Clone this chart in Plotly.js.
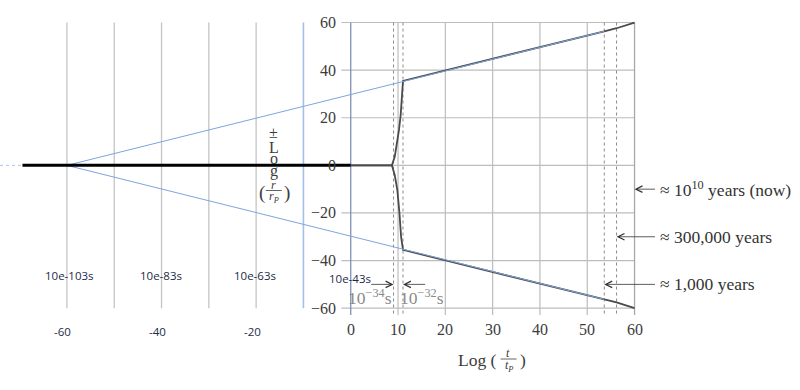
<!DOCTYPE html>
<html>
<head>
<meta charset="utf-8">
<script src="https://cdn.plot.ly/plotly-3.0.1.min.js"></script>
<style>html,body{margin:0;padding:0;background:#fff;}#chart{width:800px;height:390px;}</style>
</head>
<body>
<div id="chart"></div>
<script>
// ---- data ----
const leftGridX = [-60, -50, -40, -30, -20];
const rightGridX = [10, 20, 30, 40, 50];
const rightGridY = [-60, -40, -20, 0, 20, 40, 60];
const xTickVals = [0, 10, 20, 30, 40, 50, 60];
const yTickVals = [-60, -40, -20, 0, 20, 40, 60];
const yTickText = ['\u221260', '\u221240', '\u221220', '0', '20', '40', '60'];
const leftTickVals = [-60, -40, -20];
const leftTickText = ['-60', '-40', '-20'];
const timeLabelX = [-60, -40, -20, 0];
const timeLabels = ['10e-103s', '10e-83s', '10e-63s', '10e-43s'];
const eventX = [9.05, 11.05, 53.6, 56.2];
const upperX = [0, 8.7, 9.3, 9.8, 10.2, 10.55, 10.8, 11.05, 53.6, 56.2, 60];
const upperY = [0, 0, 3.6, 9.2, 14.9, 21, 28, 35.5, 56.3, 57.6, 60];
const lowerX = [0, 8.7, 9.3, 9.85, 10.3, 10.65, 11.05, 53.6, 56.2, 60];
const lowerY = [0, 0, -4, -10.4, -20, -30, -35.5, -56.3, -57.6, -60];
const blueX = [-60, 53.6];
const blueUpperY = [0, 56.3];
const blueLowerY = [0, -56.3];
const preX = [-69.4, 0];
const preY = [0, 0];
const faintX = [-74.15, -69.4];
const faintY = [0, 0];
const eraLabels = ['\u2248 10<sup>10</sup> years (now)', '\u2248 300,000 years', '\u2248 1,000 years'];
const eraTipX = [60, 56.2, 53.6];
const eraY = [-10, -30, -50];
const earlyLabels = ['10<sup>\u221234</sup>s', '10<sup>\u221232</sup>s'];
const earlyTipX = [9.05, 11.05];
const earlyTailX = [4.0, 16.05];
const earlyY = -50;

// ---- geometry helpers (pixel -> paper) ----
const W = 644.5, T = 13, H = 319;
const PX = p => p / W;
const PY = p => 1 - (p - T) / H;

function vlines(xs, y0, y1) {
  const x = [], y = [];
  xs.forEach(v => { x.push(v, v, null); y.push(y0, y1, null); });
  return {x, y};
}
function hlines(ys, x0, x1) {
  const x = [], y = [];
  ys.forEach(v => { x.push(x0, x1, null); y.push(v, v, null); });
  return {x, y};
}

const traces = [];
const lg = vlines(leftGridX, 60, -60);
traces.push({x: lg.x, y: lg.y, mode: 'lines', line: {color: '#c4c4c4', width: 1.3}});
const rh = hlines(rightGridY, -1.97, 60);
traces.push({x: rh.x, y: rh.y, mode: 'lines', line: {color: '#bdbdbd', width: 1.2}});
const rv = vlines(rightGridX, 60, -62.9);
traces.push({x: rv.x, y: rv.y, mode: 'lines', line: {color: '#bdbdbd', width: 1.2}});
const re = vlines([60], 60, -62.9);
traces.push({x: re.x, y: re.y, mode: 'lines', line: {color: '#a8a8a8', width: 1.3}});
const ev = vlines(eventX, 60, -62.9);
traces.push({x: ev.x, y: ev.y, mode: 'lines', line: {color: '#8a8a8a', width: 1, dash: 'dot'}});
const ax0 = vlines([0], 60, -62.9);
traces.push({x: ax0.x, y: ax0.y, mode: 'lines', line: {color: '#7f90b6', width: 1.3}});
const axm10 = vlines([-10], 60, -60);
traces.push({x: axm10.x, y: axm10.y, mode: 'lines', line: {color: '#a3c0ea', width: 1.6}});

traces.push({x: faintX, y: faintY, mode: 'lines', line: {color: '#a9c4ec', width: 1, dash: 'dot'}});
traces.push({x: upperX, y: upperY, mode: 'lines', line: {color: '#4a4a4a', width: 1.8}});
traces.push({x: lowerX, y: lowerY, mode: 'lines', line: {color: '#4a4a4a', width: 1.8}});
traces.push({x: blueX, y: blueUpperY, mode: 'lines', line: {color: '#7fa4de', width: 1}});
traces.push({x: blueX, y: blueLowerY, mode: 'lines', line: {color: '#7fa4de', width: 1}});
traces.push({x: preX, y: preY, mode: 'lines', line: {color: '#000000', width: 3}});

const serif = 'Liberation Serif, DejaVu Serif, serif';
const sans = 'Open Sans, Liberation Sans, sans-serif';
const ann = [];
const shapes = [];

// right-panel y tick labels
yTickVals.forEach((v, i) => ann.push({
  xref: 'paper', yref: 'y', x: PX(338), y: v, text: yTickText[i], showarrow: false,
  xanchor: 'right', yanchor: 'middle', font: {family: serif, size: 16, color: '#3c3c3c'}
}));
// right-panel x tick labels
xTickVals.forEach(v => ann.push({
  xref: 'x', yref: 'paper', x: v, y: PY(329), text: String(v), showarrow: false,
  xanchor: 'center', yanchor: 'middle', font: {family: serif, size: 16, color: '#3c3c3c'}
}));
// left-panel tick labels
leftTickVals.forEach((v, i) => ann.push({
  xref: 'x', yref: 'paper', x: v, y: PY(331), xshift: -4, text: leftTickText[i], showarrow: false,
  xanchor: 'center', yanchor: 'middle', font: {family: sans, size: 11.5, color: '#1c2a48'}
}));
// time labels
timeLabelX.forEach((v, i) => ann.push({
  xref: 'x', yref: 'paper', x: v, y: PY(i === 3 ? 278 : 275), xshift: i === 0 ? 3 : -1, text: timeLabels[i], showarrow: false,
  xanchor: 'center', yanchor: 'middle', font: {family: sans, size: 11.5, color: '#1c2a48'}
}));
// era arrows + labels
eraLabels.forEach((t, i) => {
  ann.push({xref: 'x', yref: 'y', x: eraTipX[i], y: eraY[i], axref: 'x', ayref: 'y',
    ax: (657 / 4.7337) - 74.15, ay: eraY[i], text: '', showarrow: true,
    arrowhead: 5, arrowsize: 1.6, arrowwidth: 0.8, arrowcolor: '#333', standoff: 0});
  ann.push({xref: 'paper', yref: 'y', x: PX(659), y: eraY[i], text: t, showarrow: false,
    xanchor: 'left', yanchor: 'middle', font: {family: serif, size: 17.5, color: '#333'}});
});
// early universe arrows + labels
earlyLabels.forEach((t, i) => {
  ann.push({xref: 'x', yref: 'y', x: earlyTipX[i], y: earlyY, axref: 'x', ayref: 'y',
    ax: earlyTailX[i], ay: earlyY, text: '', showarrow: true,
    arrowhead: 5, arrowsize: 1.6, arrowwidth: 0.8, arrowcolor: '#333', standoff: 0});
  ann.push({xref: 'paper', yref: 'paper', x: PX(i === 0 ? 370.5 : 422.5), y: PY(297), text: t, showarrow: false,
    xanchor: 'center', yanchor: 'middle', font: {family: serif, size: 17.5, color: '#8a8a8a'}});
});
// y title, stacked
[['\u00b1', 132], ['L', 147], ['o', 159], ['g', 171]].forEach(([t, p]) => ann.push({
  xref: 'paper', yref: 'paper', x: PX(274), y: PY(p), text: t, showarrow: false,
  xanchor: 'center', yanchor: 'middle', font: {family: serif, size: 16, color: '#3c3c3c'}
}));
ann.push({xref: 'paper', yref: 'paper', x: PX(262), y: PY(193), text: '(', showarrow: false,
  xanchor: 'center', yanchor: 'middle', font: {family: serif, size: 19, color: '#3c3c3c'}});
ann.push({xref: 'paper', yref: 'paper', x: PX(287), y: PY(193), text: ')', showarrow: false,
  xanchor: 'center', yanchor: 'middle', font: {family: serif, size: 19, color: '#3c3c3c'}});
ann.push({xref: 'paper', yref: 'paper', x: PX(274), y: PY(185), text: '<i>r</i>', showarrow: false,
  xanchor: 'center', yanchor: 'middle', font: {family: serif, size: 12, color: '#3c3c3c'}});
ann.push({xref: 'paper', yref: 'paper', x: PX(274), y: PY(197), text: '<i>r<sub>P</sub></i>', showarrow: false,
  xanchor: 'center', yanchor: 'middle', font: {family: serif, size: 12, color: '#3c3c3c'}});
shapes.push({type: 'line', xref: 'paper', yref: 'paper', x0: PX(266), x1: PX(282), y0: PY(190.5), y1: PY(190.5),
  line: {color: '#3c3c3c', width: 0.8}});
// x title
ann.push({xref: 'paper', yref: 'paper', x: PX(499), y: PY(360), text: 'Log (', showarrow: false,
  xanchor: 'right', yanchor: 'middle', font: {family: serif, size: 17.5, color: '#3c3c3c'}});
ann.push({xref: 'paper', yref: 'paper', x: PX(508), y: PY(353), text: '<i>t</i>', showarrow: false,
  xanchor: 'center', yanchor: 'middle', font: {family: serif, size: 12, color: '#3c3c3c'}});
ann.push({xref: 'paper', yref: 'paper', x: PX(509), y: PY(366), text: '<i>t<sub>P</sub></i>', showarrow: false,
  xanchor: 'center', yanchor: 'middle', font: {family: serif, size: 12, color: '#3c3c3c'}});
shapes.push({type: 'line', xref: 'paper', yref: 'paper', x0: PX(501), x1: PX(517), y0: PY(359), y1: PY(359),
  line: {color: '#3c3c3c', width: 0.8}});
ann.push({xref: 'paper', yref: 'paper', x: PX(518), y: PY(360), text: ')', showarrow: false,
  xanchor: 'left', yanchor: 'middle', font: {family: serif, size: 17.5, color: '#3c3c3c'}});

const layout = {
  width: 800, height: 390,
  margin: {l: 0, r: 155.5, t: 13, b: 58, pad: 0},
  paper_bgcolor: '#ffffff', plot_bgcolor: '#ffffff',
  showlegend: false, hovermode: false,
  xaxis: {range: [-74.15, 62], visible: false, fixedrange: true},
  yaxis: {range: [-70, 64], visible: false, fixedrange: true},
  annotations: ann, shapes: shapes
};
Plotly.newPlot('chart', traces.map(t => Object.assign({type: 'scatter', hoverinfo: 'skip', cliponaxis: false}, t)), layout, {staticPlot: true, displayModeBar: false});
</script>
</body>
</html>
